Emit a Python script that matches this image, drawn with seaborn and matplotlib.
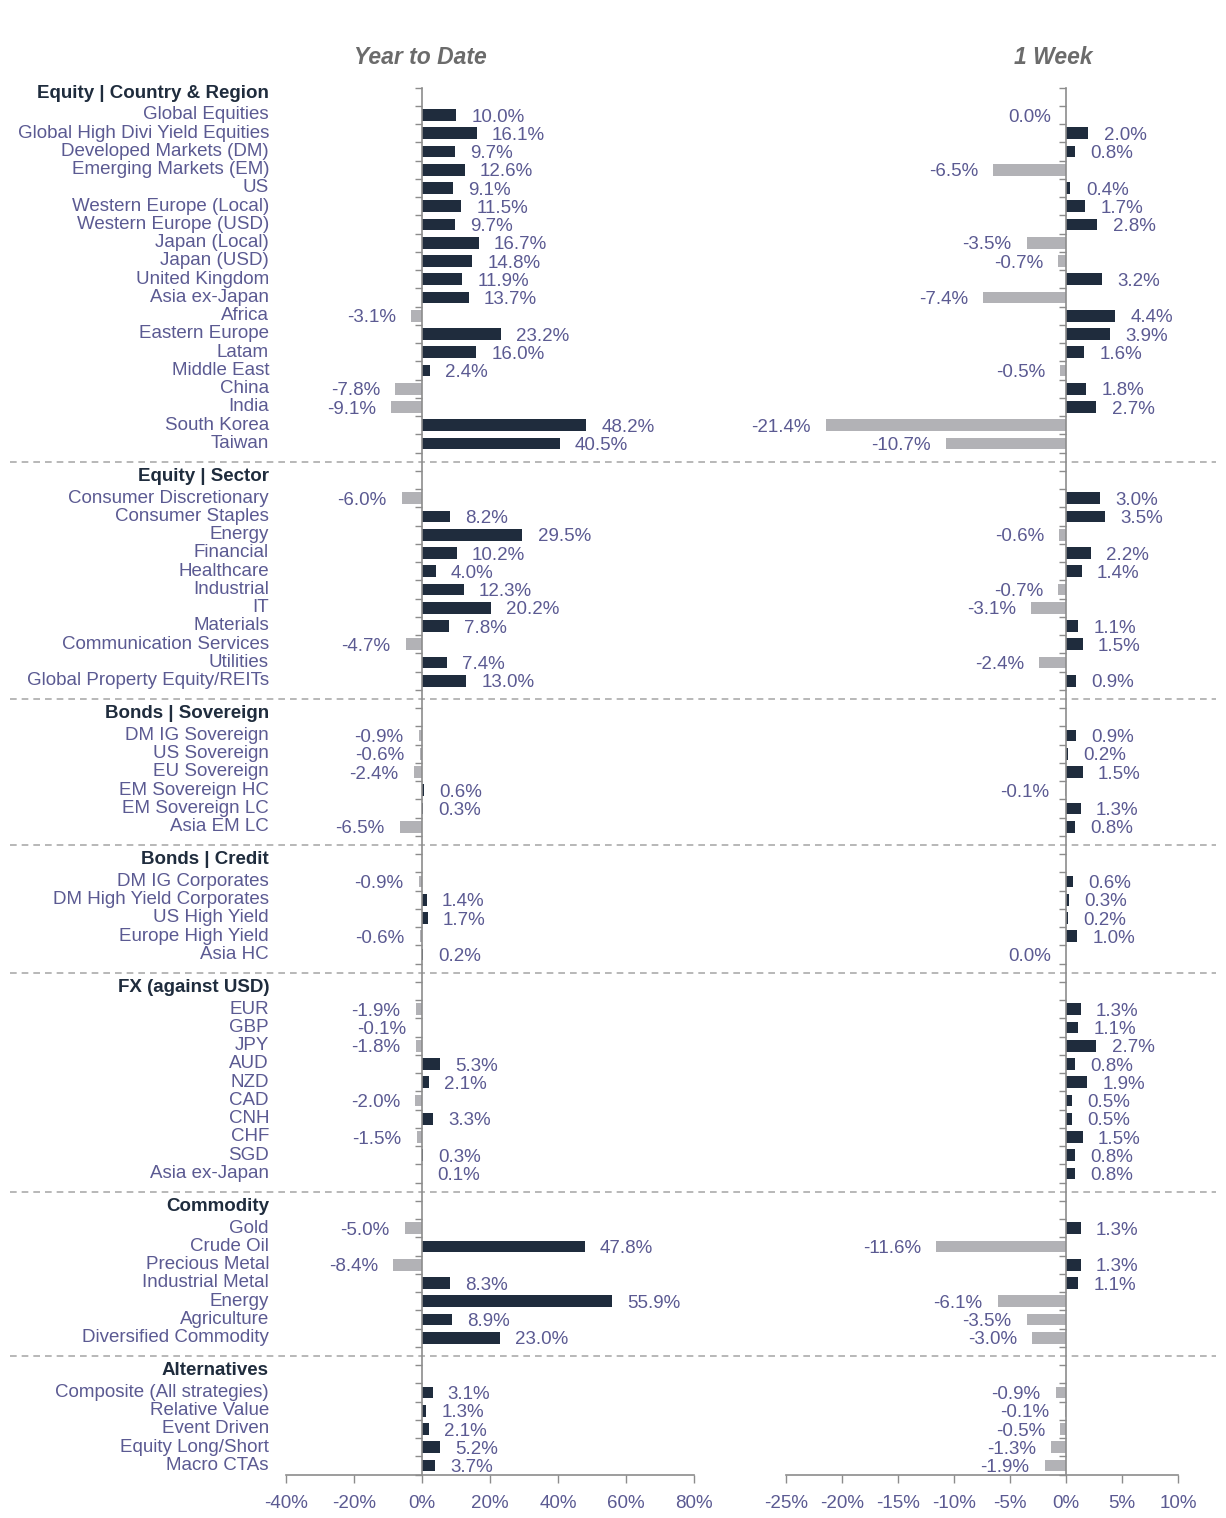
import numpy as np
import pandas as pd
import matplotlib
matplotlib.use("Agg")
import matplotlib.pyplot as plt
import matplotlib.transforms as mtrans
from matplotlib.lines import Line2D
import seaborn as sns

# ---------------- data ----------------
sec_titles = ["Equity | Country & Region", "Equity | Sector", "Bonds | Sovereign",
              "Bonds | Credit", "FX (against USD)", "Commodity", "Alternatives"]

eq_region = ["Global Equities", "Global High Divi Yield Equities", "Developed Markets (DM)",
             "Emerging Markets (EM)", "US", "Western Europe (Local)", "Western Europe (USD)",
             "Japan (Local)", "Japan (USD)", "United Kingdom", "Asia ex-Japan", "Africa",
             "Eastern Europe", "Latam", "Middle East", "China", "India", "South Korea", "Taiwan"]
eq_region_ytd = [10.0, 16.1, 9.7, 12.6, 9.1, 11.5, 9.7, 16.7, 14.8, 11.9, 13.7, -3.1,
                 23.2, 16.0, 2.4, -7.8, -9.1, 48.2, 40.5]
eq_region_wk = [0.0, 2.0, 0.8, -6.5, 0.4, 1.7, 2.8, -3.5, -0.7, 3.2, -7.4, 4.4,
                3.9, 1.6, -0.5, 1.8, 2.7, -21.4, -10.7]

eq_sector = ["Consumer Discretionary", "Consumer Staples", "Energy", "Financial", "Healthcare",
             "Industrial", "IT", "Materials", "Communication Services", "Utilities",
             "Global Property Equity/REITs"]
eq_sector_ytd = [-6.0, 8.2, 29.5, 10.2, 4.0, 12.3, 20.2, 7.8, -4.7, 7.4, 13.0]
eq_sector_wk = [3.0, 3.5, -0.6, 2.2, 1.4, -0.7, -3.1, 1.1, 1.5, -2.4, 0.9]

bonds_sov = ["DM IG Sovereign", "US Sovereign", "EU Sovereign", "EM Sovereign HC",
             "EM Sovereign LC", "Asia EM LC"]
bonds_sov_ytd = [-0.9, -0.6, -2.4, 0.6, 0.3, -6.5]
bonds_sov_wk = [0.9, 0.2, 1.5, -0.1, 1.3, 0.8]

bonds_cr = ["DM IG Corporates", "DM High Yield Corporates", "US High Yield",
            "Europe High Yield", "Asia HC"]
bonds_cr_ytd = [-0.9, 1.4, 1.7, -0.6, 0.2]
bonds_cr_wk = [0.6, 0.3, 0.2, 1.0, 0.0]

fx = ["EUR", "GBP", "JPY", "AUD", "NZD", "CAD", "CNH", "CHF", "SGD", "Asia ex-Japan"]
fx_ytd = [-1.9, -0.1, -1.8, 5.3, 2.1, -2.0, 3.3, -1.5, 0.3, 0.1]
fx_wk = [1.3, 1.1, 2.7, 0.8, 1.9, 0.5, 0.5, 1.5, 0.8, 0.8]

commod = ["Gold", "Crude Oil", "Precious Metal", "Industrial Metal", "Energy",
          "Agriculture", "Diversified Commodity"]
commod_ytd = [-5.0, 47.8, -8.4, 8.3, 55.9, 8.9, 23.0]
commod_wk = [1.3, -11.6, 1.3, 1.1, -6.1, -3.5, -3.0]

alts = ["Composite (All strategies)", "Relative Value", "Event Driven",
        "Equity Long/Short", "Macro CTAs"]
alts_ytd = [3.1, 1.3, 2.1, 5.2, 3.7]
alts_wk = [-0.9, -0.1, -0.5, -1.3, -1.9]

ytd_ticks = [-40, -20, 0, 20, 40, 60, 80]
wk_ticks = [-25, -20, -15, -10, -5, 0, 5, 10]
panel_titles = ["Year to Date", "1 Week"]

sections = [
    (eq_region, eq_region_ytd, eq_region_wk),
    (eq_sector, eq_sector_ytd, eq_sector_wk),
    (bonds_sov, bonds_sov_ytd, bonds_sov_wk),
    (bonds_cr, bonds_cr_ytd, bonds_cr_wk),
    (fx, fx_ytd, fx_wk),
    (commod, commod_ytd, commod_wk),
    (alts, alts_ytd, alts_wk),
]

# ---------------- build row table ----------------
rows = []
headers = []
separators = []
pos = 0
for i, (cats, y, w) in enumerate(sections):
    if i > 0:
        separators.append(pos)
        pos += 1
    headers.append((pos, sec_titles[i]))
    pos += 1
    for c, a, b in zip(cats, y, w):
        rows.append(dict(pos=pos, label=c, ytd=a, wk=b))
        pos += 1
nrows = pos
df = pd.DataFrame(rows)
df["ytd_sign"] = np.where(df["ytd"] > 0, "pos", "neg")
df["wk_sign"] = np.where(df["wk"] > 0, "pos", "neg")

# ---------------- style ----------------
NAVY = "#1f2c3d"
GREY_BAR = "#b2b2b6"
LABEL = "#5b5a92"
AXIS = "#8c8c8c"
TITLE = "#6b6b6b"
REG = ["Liberation Sans", "DejaVu Sans"]
FS = 13.5

sns.set_theme(style="white")
plt.rcParams["font.family"] = REG

W, H = 1226, 1518
fig = plt.figure(figsize=(W / 100, H / 100), dpi=100)
top_px, bot_px = 87.6, 1474.6
ax_b = 1 - bot_px / H
ax_h = (bot_px - top_px) / H
ax1 = fig.add_axes([286 / W, ax_b, 408 / W, ax_h])
ax2 = fig.add_axes([786 / W, ax_b, 392 / W, ax_h])

palette = {"pos": NAVY, "neg": GREY_BAR}

for ax, col, sign, ticks, xlim, title, tx in [
    (ax1, "ytd", "ytd_sign", ytd_ticks, (-40, 80), panel_titles[0], 420),
    (ax2, "wk", "wk_sign", wk_ticks, (-25, 10), panel_titles[1], 1053),
]:
    sns.barplot(data=df, x=col, y="pos", hue=sign, palette=palette, orient="h",
                native_scale=True, dodge=False, width=0.65, errorbar=None,
                legend=False, ax=ax, saturation=1, linewidth=0)
    ax.set_xlim(*xlim)
    ax.set_ylim(nrows - 0.5, -0.5)
    ax.set_xlabel("")
    ax.set_ylabel("")
    ax.set_facecolor("none")
    for s in ["top", "right"]:
        ax.spines[s].set_visible(False)
    ax.spines["left"].set_position(("data", 0))
    ax.spines["left"].set_color(AXIS)
    ax.spines["left"].set_linewidth(1.2)
    ax.spines["bottom"].set_color(AXIS)
    ax.spines["bottom"].set_linewidth(1.2)
    ax.set_yticks(np.arange(-0.5, nrows, 1.0))
    ax.set_yticklabels([])
    ax.tick_params(axis="y", direction="out", length=5, width=1, color=AXIS, left=True)
    ax.set_xticks(ticks)
    ax.set_xticklabels([f"{t}%" for t in ticks])
    ax.tick_params(axis="x", direction="out", length=6, width=1, color=AXIS, bottom=True,
                   labelsize=FS, labelcolor=LABEL, pad=9)
    ax.grid(False)
    # value labels
    for _, r in df.iterrows():
        v = r[col]
        if v > 0:
            ax.annotate(f"{v:.1f}%", (v, r["pos"]), xytext=(11, -1.5),
                        textcoords="offset points", ha="left", va="center",
                        color=LABEL, fontsize=FS)
        else:
            ax.annotate(f"{v:.1f}%", (v, r["pos"]), xytext=(-11, -1.5),
                        textcoords="offset points", ha="right", va="center",
                        color=LABEL, fontsize=FS)
    fig.text(tx / W, 1 - 57 / H, title, ha="center", va="center", fontsize=16.5,
             fontweight="bold", fontstyle="italic", color=TITLE)

# category labels and headers
tr = mtrans.blended_transform_factory(fig.transFigure, ax1.transData)
for _, r in df.iterrows():
    ax1.text(269 / W, r["pos"], r["label"], transform=tr, ha="right", va="center",
             color=LABEL, fontsize=FS, clip_on=False)
for p, t in headers:
    ax1.text(269 / W, p - 0.2, t, transform=tr, ha="right", va="center",
             color=NAVY, fontsize=FS, fontweight="bold", clip_on=False)
for p in separators:
    ln = Line2D([10 / W, 1216 / W], [p, p], transform=tr, color="#ababab",
                linewidth=1.2, linestyle=(0, (4, 3)), clip_on=False)
    ax1.add_line(ln)

fig.savefig("out.png", dpi=100)
